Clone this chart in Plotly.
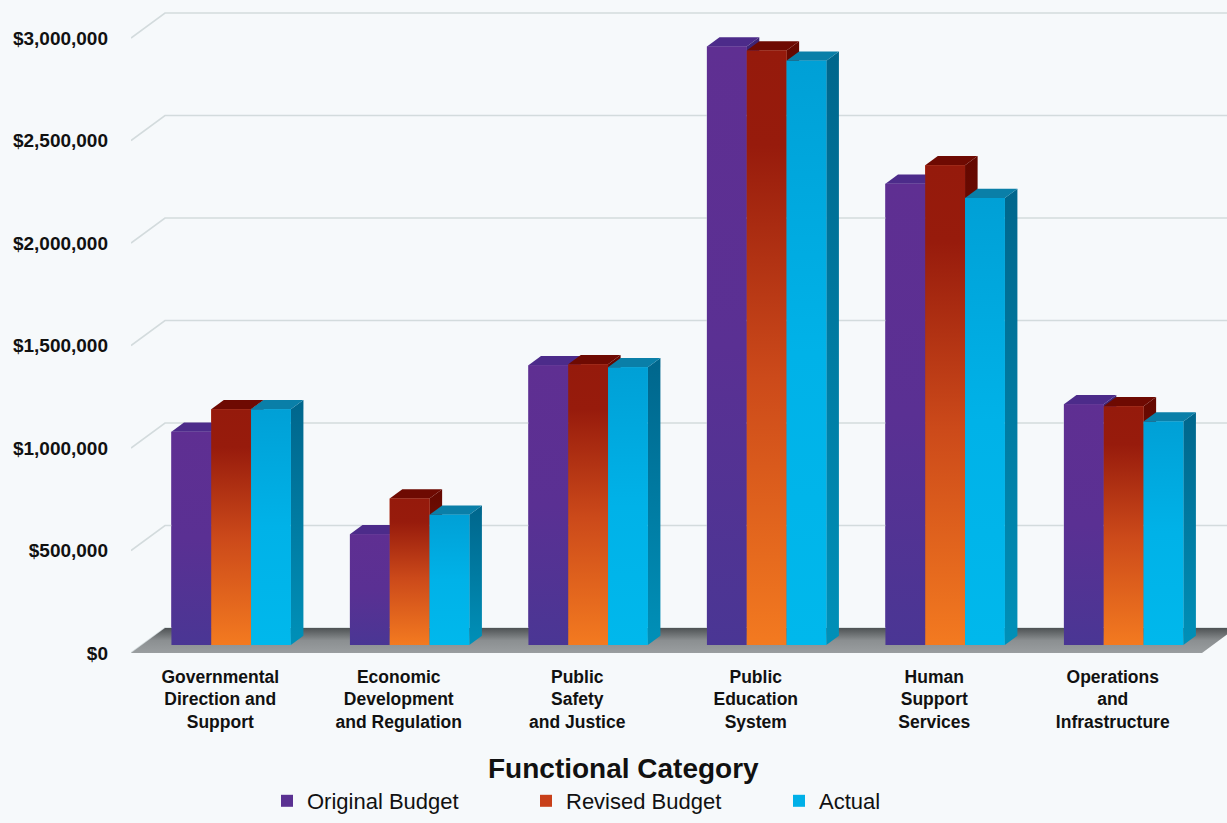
import plotly.graph_objects as go

# ---------------- data ----------------
categories = [
    "Governmental<br>Direction and<br>Support",
    "Economic<br>Development<br>and Regulation",
    "Public<br>Safety<br>and Justice",
    "Public<br>Education<br>System",
    "Human<br>Support<br>Services",
    "Operations<br>and<br>Infrastructure",
]
series_names = ["Original Budget", "Revised Budget", "Actual"]
original_budget = [1040000, 540000, 1365000, 2920000, 2250000, 1175000]
revised_budget = [1150000, 715000, 1370000, 2900000, 2340000, 1165000]
actual = [1150000, 635000, 1355000, 2850000, 2180000, 1090000]
y_tick_values = [0, 500000, 1000000, 1500000, 2000000, 2500000, 3000000]
y_tick_labels = ["$0", "$500,000", "$1,000,000", "$1,500,000",
                 "$2,000,000", "$2,500,000", "$3,000,000"]
x_title = "Functional Category"

# ---------------- styling / geometry ----------------
W, H = 1227, 823
ML, MB = 131, 170
PLOT_W, PLOT_H = W - ML, H - MB
PX_PER_CAT = 178.5
PX_PER_DOLLAR = 205 / 1e6
X_RANGE = [-0.5, -0.5 + PLOT_W / PX_PER_CAT]
Y_RANGE = [0, PLOT_H / PX_PER_DOLLAR]
DX = 34 / PX_PER_CAT          # depth shift in category units
DY = 25 / PX_PER_DOLLAR       # depth shift in dollar units
F1, F2 = 0.32, 0.69           # bar front / back depth fractions
BW = 39.8 / PX_PER_CAT        # bar width in category units
BG = "#f6f9fb"

styles = [
    dict(color="#5a3192",
         front=[[0, "#4a3694"], [0.5, "#5a3093"], [1, "#5f2f92"]],
         side=[[0, "#3a2a7c"], [1, "#3e2474"]],
         top="#4c2b8a"),
    dict(color="#c8401a",
         front=[[0, "#f37a20"], [0.45, "#cc4a1a"], [0.84, "#971b0c"], [1, "#951a0c"]],
         side=[[0, "#a83a10"], [0.6, "#7a1206"], [1, "#640800"]],
         top="#6e0a02"),
    dict(color="#00b0e8",
         front=[[0, "#00b8ec"], [0.5, "#00b2e8"], [1, "#00a0d6"]],
         side=[[0, "#0090b8"], [1, "#00668c"]],
         top="#0a7fa8"),
]
all_values = [original_budget, revised_budget, actual]

fig = go.Figure()

# legend-carrying bars (front faces)
legends = ["legend", "legend2", "legend3"]
for k, (name, vals) in enumerate(zip(series_names, all_values)):
    fig.add_trace(go.Bar(
        x=list(range(len(categories))), y=vals, name=name,
        base=F1 * DY, width=BW, offset=F1 * DX - 1.5 * BW + k * BW,
        marker=dict(color=styles[k]["color"], line=dict(width=0)),
        legend=legends[k],
        hovertemplate="%{y:$,.0f}<extra>" + name + "</extra>",
    ))

# back-wall gridlines with side-wall diagonals
gx, gy = [], []
for g in y_tick_values:
    gx += [X_RANGE[0], X_RANGE[0] + DX, X_RANGE[1], None]
    gy += [g, g + DY, g + DY, None]
fig.add_trace(go.Scatter(x=gx, y=gy, mode="lines",
                         line=dict(color="#d3dbdd", width=1.6),
                         hoverinfo="skip", showlegend=False))

# floor
n = len(categories)
fx = [-0.5, n - 0.5, n - 0.5 + DX, -0.5 + DX, -0.5]
fy = [0, 0, DY, DY, 0]
fig.add_trace(go.Scatter(
    x=fx, y=fy, mode="none", fill="toself",
    fillgradient=dict(type="vertical", start=0, stop=DY,
                      colorscale=[[0, "#9a9ea0"], [0.5, "#8b8f91"], [1, "#4e5254"]]),
    hoverinfo="skip", showlegend=False))

# 3D bars: side, top, front (left to right)
bx = (F2 - F1) * DX
by = (F2 - F1) * DY
for i in range(n):
    for k in range(3):
        v = all_values[k][i]
        st = styles[k]
        xl = i + F1 * DX - 1.5 * BW + k * BW
        xr = xl + BW
        yb = F1 * DY
        yt = yb + v
        fig.add_trace(go.Scatter(
            x=[xr, xr + bx, xr + bx, xr, xr], y=[yb, yb + by, yt + by, yt, yb],
            mode="none", fill="toself",
            fillgradient=dict(type="vertical", start=yb, stop=yt + by, colorscale=st["side"]),
            hoverinfo="skip", showlegend=False))
        fig.add_trace(go.Scatter(
            x=[xl, xr, xr + bx, xl + bx, xl], y=[yt, yt, yt + by, yt + by, yt],
            mode="none", fill="toself", fillcolor=st["top"],
            hoverinfo="skip", showlegend=False))
        fig.add_trace(go.Scatter(
            x=[xl, xr, xr, xl, xl], y=[yb, yb, yt, yt, yb],
            mode="none", fill="toself",
            fillgradient=dict(type="vertical", start=yb, stop=yt, colorscale=st["front"]),
            hoverinfo="skip", showlegend=False))

label_font = dict(family="Liberation Sans, Arial, sans-serif",
                  size=17.5, color="#111111", weight="bold")

legend_common = dict(orientation="h", yanchor="middle", xanchor="left",
                     bgcolor="rgba(0,0,0,0)", itemwidth=30,
                     font=dict(family="Liberation Sans, Arial, sans-serif", size=22, color="#111111"))
leg_px = [267, 526, 779]
leg_y = (PLOT_H - 801) / PLOT_H

fig.update_layout(
    width=W, height=H, autosize=False,
    margin=dict(l=ML, r=0, t=0, b=MB, pad=0),
    paper_bgcolor=BG, plot_bgcolor=BG,
    barmode="overlay",
    showlegend=True,
    legend=dict(x=(leg_px[0] - ML) / PLOT_W, y=leg_y, **legend_common),
    legend2=dict(x=(leg_px[1] - ML) / PLOT_W, y=leg_y, **legend_common),
    legend3=dict(x=(leg_px[2] - ML) / PLOT_W, y=leg_y, **legend_common),
    xaxis=dict(range=X_RANGE, showgrid=False, zeroline=False, showline=False,
               tickmode="array", tickvals=list(range(n)), ticktext=categories,
               ticks="", ticklabelstandoff=11, tickfont=label_font),
    yaxis=dict(range=Y_RANGE, showgrid=False, zeroline=False, showline=False,
               tickmode="array", tickvals=y_tick_values, ticktext=y_tick_labels,
               ticks="", ticklabelstandoff=22,
               tickfont=dict(family="Liberation Sans, Arial, sans-serif", size=19,
                             color="#111111", weight="bold")),
    annotations=[dict(text=x_title, xref="paper", yref="paper",
                      x=(623 - ML) / PLOT_W, y=(PLOT_H - 768) / PLOT_H,
                      xanchor="center", yanchor="middle", showarrow=False,
                      font=dict(family="Liberation Sans, Arial, sans-serif", size=28,
                                color="#111111", weight="bold"))],
)

fig.write_html("out.html")
